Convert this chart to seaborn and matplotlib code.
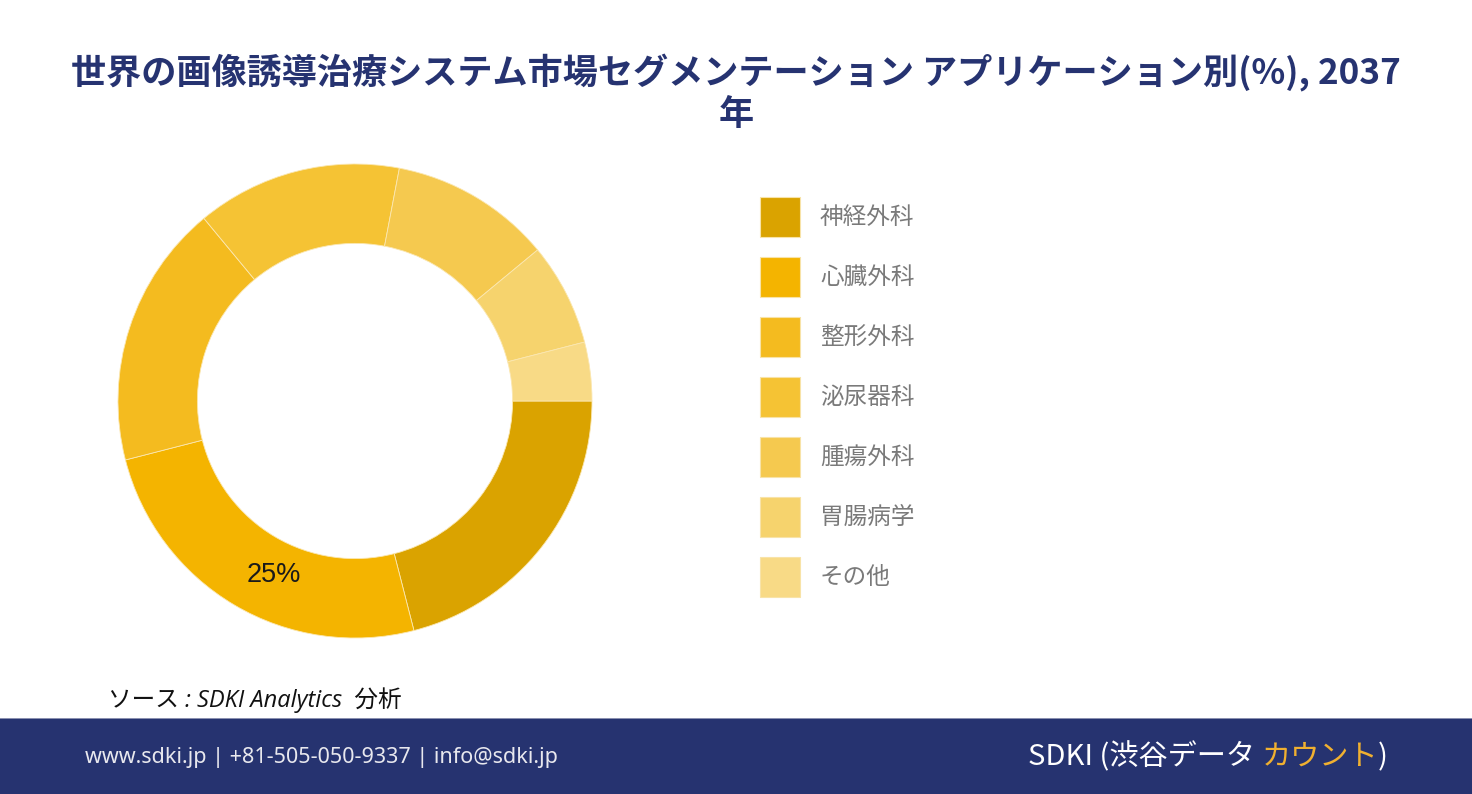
import matplotlib
matplotlib.use("Agg")
import matplotlib.pyplot as plt
import seaborn as sns
import numpy as np
from matplotlib.patches import Rectangle, Patch

categories = ["神経外科", "心臓外科", "整形外科", "泌尿器科", "腫瘍外科", "胃腸病学", "その他"]
values = [21, 25, 18, 14, 11, 7, 4]
colors = ["#DAA300", "#F4B400", "#F4BB1F", "#F5C334", "#F5C94F", "#F6D36D", "#F8DA86"]
shown_labels = {"心臓外科": "25%"}

title = "世界の画像誘導治療システム市場セグメンテーション アプリケーション別(%), 2037\n年"
source = "ソース : SDKI Analytics  分析"
footer_left = "www.sdki.jp | +81-505-050-9337 | info@sdki.jp"

sns.set_theme(style="white")
plt.rcParams['font.family'] = ['Noto Sans CJK JP', 'DejaVu Sans']

W, H = 1472, 794
fig = plt.figure(figsize=(W / 100, H / 100), dpi=100)
fig.patch.set_facecolor("white")

# donut
cx, cy, R = 355, 401, 237
ax = fig.add_axes([(cx - R) / W, (H - cy - R) / H, 2 * R / W, 2 * R / H])
wedges, _ = ax.pie(values, colors=colors, startangle=0, counterclock=False,
                   radius=1.0, wedgeprops=dict(width=0.335, edgecolor="#FBE7B0", linewidth=0.6))
ax.set_aspect("equal")
ax.set_xlim(-1, 1)
ax.set_ylim(-1, 1)
total = sum(values)
start = 0.0
for cat, v in zip(categories, values):
    mid = start + v / 2
    if cat in shown_labels:
        ang = np.deg2rad(-(mid / total * 360 - 5.5))
        r = 0.81
        ax.text(r * np.cos(ang), r * np.sin(ang), shown_labels[cat], ha="center", va="center",
                fontsize=19.5, color="#1A1A1A", family=["Liberation Sans", "DejaVu Sans"])
    start += v

# legend
fs = 17
px = fs * 100 / 72
hh = (40 / px - 0.245) / 0.65
handles = [Patch(facecolor=c, edgecolor="#F8E3A8", linewidth=0.8) for c in colors]
leg = fig.legend(handles, categories, loc="upper left",
                 bbox_to_anchor=(760 / W, 1 - 197 / H), frameon=False,
                 fontsize=fs, handlelength=40 / px, handleheight=hh,
                 labelspacing=20 / px, handletextpad=20 / px, borderpad=0, borderaxespad=0)
for t in leg.get_texts():
    t.set_color("#7A7A7A")

# title
fig.text(736 / W, 1 - 93 / H, title, ha="center", va="center", fontsize=25.3,
         fontweight="bold", color="#263371", linespacing=1.2)

# source
fig.text(108 / W, 1 - 700 / H, source, ha="left", va="center", fontsize=17,
         style="italic", color="#111111", family=["Open Sans", "Noto Sans CJK JP"])

# footer band
fig.add_artist(Rectangle((0, 0), 1, (H - 718) / H, transform=fig.transFigure,
                         facecolor="#263370", edgecolor="none"))
fig.add_artist(Rectangle((0, (H - 719) / H), 1, 1.5 / H, transform=fig.transFigure,
                         facecolor="#8A90B0", edgecolor="none"))
fig.text(85 / W, 1 - 757 / H, footer_left, ha="left", va="center", fontsize=15.5,
         color="#E8E8EE", family=["Noto Sans", "DejaVu Sans"])
t1 = fig.text(1028 / W, 1 - 757 / H, "SDKI (渋谷データ ", ha="left", va="center",
              fontsize=21, color="white")
fig.canvas.draw()
bb = t1.get_window_extent()
t2 = fig.text(bb.x1 / W, 1 - 757 / H, "カウント", ha="left", va="center",
              fontsize=21, color="#F0B030")
fig.canvas.draw()
bb2 = t2.get_window_extent()
fig.text(bb2.x1 / W, 1 - 757 / H, ")", ha="left", va="center", fontsize=21, color="white")

fig.savefig("out.png", dpi=100, facecolor="white")
